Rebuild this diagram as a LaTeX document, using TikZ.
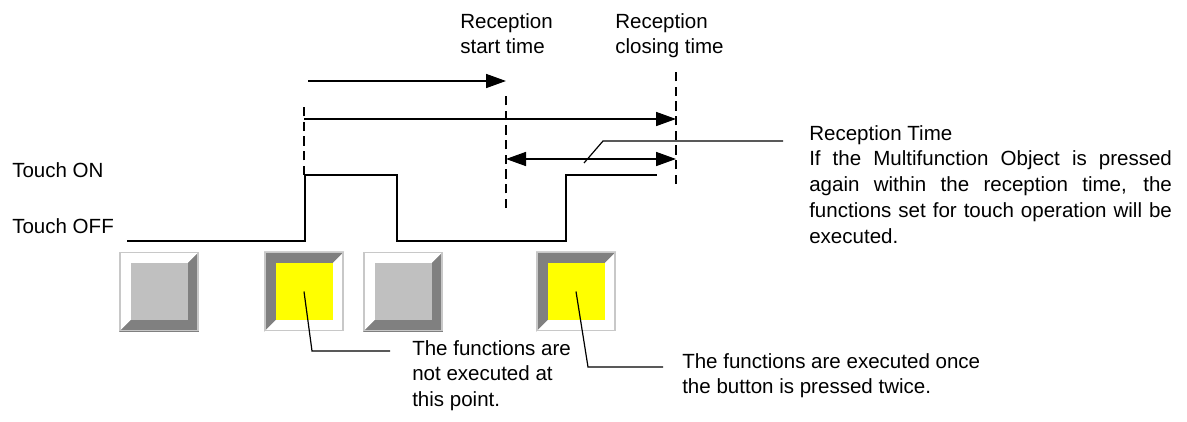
\documentclass[tikz,border=0pt]{standalone}
\usepackage{fontspec}
\setmainfont{Liberation Sans}
\usepackage{tikz}
\usetikzlibrary{arrows.meta,calc}
\definecolor{keyface}{RGB}{192,192,192}
\definecolor{keyshade}{RGB}{128,128,128}
\definecolor{keyrim}{RGB}{200,200,200}
\definecolor{keylit}{RGB}{255,255,0}
\newcommand{\lblfont}{\fontsize{15.4}{19.3}\selectfont}
% #1 name, #2 centre, #3 upper-left bevel, #4 lower-right bevel, #5 face
\newcommand{\keybtn}[5]{%
  \node[keycap, fill=#4] (#1) at (#2) {};
  \fill[#3] (#1.north west) -- (#1.north east) -- (#1.south west) -- cycle;
  \fill[#5] ($(#1.north west)+(11.5,11.5)$) rectangle ($(#1.south east)+(-11.5,-11.5)$);
  \draw[keyrim, line width=1.2pt] ($(#1.north west)+(1,1)$) rectangle ($(#1.south east)+(-1,-1)$);
}

\begin{document}
\begin{tikzpicture}[x=0.75pt, y=-0.75pt,
    lbl/.style={font=\lblfont, inner sep=0pt, align=left, anchor=north west},
    keycap/.style={minimum width=60pt, minimum height=60pt, inner sep=0pt, outer sep=0pt},
    wave/.style={line width=1.2pt},
    guide/.style={line width=1pt, dash pattern=on 7pt off 4pt},
    arr/.style={line width=1.2pt, -{Triangle[length=15pt, width=10.5pt]}},
    arrs/.style={line width=1.2pt, {Triangle[length=15pt, width=10.5pt]}-{Triangle[length=15pt, width=10.5pt]}},
    lead/.style={line width=0.9pt},
]
\useasboundingbox (0,0) rectangle (1187,421);

\node[lbl, anchor=base west] (on) at (12,177) {Touch ON};
\node[lbl, anchor=base west] (off) at (12,233) {Touch OFF};
\node[lbl] (start) at (460,13) {Reception\\start time};
\node[lbl] (close) at (615,13) {Reception\\closing time};
\node[lbl] (rtime) at (809,125) {Reception Time\\
  \makebox[272pt][s]{If the Multifunction Object is pressed}\\
  \makebox[272pt][s]{again within the reception time, the}\\
  \makebox[272pt][s]{functions set for touch operation will be}\\
  executed.};
\node[lbl] (notyet) at (412,340) {The functions are\\not executed at\\this point.};
\node[lbl] (twice) at (682,353) {The functions are executed once\\the button is pressed twice.};

% touch signal
\draw[wave] (127,241) -| (305,175) -| (397,241) -| (566,175) -- (657,175);

% time marks
\coordinate (press) at (304,175);
\coordinate (open) at (506,208);
\coordinate (shut) at (676,184);
\draw[guide] (press) -- (304,102);
\draw[guide] (open) -- (506,92);
\draw[guide] (shut) -- (676,68);

\draw[arr] (308,81) -- (506,81);
\draw[arr] (304,119) -- (676,119);
\draw[arrs] (506,159) -- (676,159);

\keybtn{key1}{159,291.5}{white}{keyshade}{keyface}
\keybtn{key2}{304,291.5}{keyshade}{white}{keylit}
\keybtn{key3}{403,291.5}{white}{keyshade}{keyface}
\keybtn{key4}{576,291.5}{keyshade}{white}{keylit}

% callouts
\coordinate (e0) at (783,141);
\draw[lead] (584,163) -- (603,141) -- (e0);
\coordinate (e2) at (390,351);
\draw[lead] (key2.center) -- (312,351) -- (e2);
\coordinate (e4) at (663,367);
\draw[lead] (key4.center) -- (588,367) -- (e4);
\end{tikzpicture}
\end{document}
